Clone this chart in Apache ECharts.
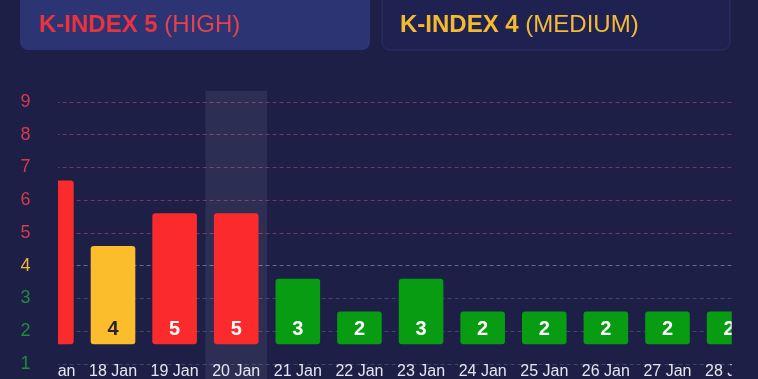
<!DOCTYPE html>
<html><head><meta charset="utf-8">
<script src="https://cdn.jsdelivr.net/npm/echarts@6/dist/echarts.min.js"></script>
<style>html,body{margin:0;padding:0;background:#1d1f47;overflow:hidden;width:758px;height:379px}#c{width:770px;height:400px}</style>
</head><body><div id="c"></div>
<script>
const categories = ['17 Jan','18 Jan','19 Jan','20 Jan','21 Jan','22 Jan','23 Jan','24 Jan','25 Jan','26 Jan','27 Jan','28 Jan'];
const kIndex = [6, 4, 5, 5, 3, 2, 3, 2, 2, 2, 2, 2];
const yTickLabels = [1, 2, 3, 4, 5, 6, 7, 8, 9];
const highlightedDay = '20 Jan';
const cards = [
  {level: 5, word: 'HIGH'},
  {level: 4, word: 'MEDIUM'}
];

const BG = '#1d1f47';
const FONT = "'Liberation Sans', Arial, sans-serif";
const RED = '#fb2b2d', YEL = '#fbbd2b', GRN = '#079c12';
const barFloor = 1.6;   // bars rise from this level
const barLift = 0.6;    // bar top sits this far above the reading
function levelColor(v){ return v >= 5 ? RED : (v === 4 ? YEL : GRN); }
function labelColor(v){ return v >= 5 ? '#d9394f' : (v === 4 ? '#f2b33a' : '#1f8c3c'); }
function textColor(v){ return v >= 5 ? '#e9333f' : '#f4b92f'; }

const chart = echarts.init(document.getElementById('c'));

const splitColors = [];
for (let v = 0; v <= 10; v++) {
  splitColors.push(v === 0 || v === 10 ? 'rgba(0,0,0,0)' :
    v >= 5 ? 'rgba(200,70,120,0.55)' : v === 4 ? 'rgba(200,200,210,0.45)' : 'rgba(150,155,195,0.3)');
}

const option = {
  backgroundColor: BG,
  animation: false,
  grid: {left: 20.6, right: 10.1, top: 69, bottom: 3.3},
  xAxis: {
    type: 'category', data: categories, boundaryGap: true,
    splitLine: {show: false}, axisLine: {show: false}, axisTick: {show: false},
    axisLabel: {interval: 0, inside: true, margin: 17, color: '#e4e6f0', fontSize: 16, fontFamily: FONT}
  },
  yAxis: [
    {
      type: 'value', min: 0, max: 10, interval: 1,
      axisLine: {show: false}, axisTick: {show: false}, axisLabel: {show: false},
      splitLine: {show: true, lineStyle: {type: [4, 3], width: 1, color: splitColors}}
    },
    {
      type: 'value', min: 0, max: 10, interval: 1, z: 10, position: 'left',
      axisLine: {show: false}, axisTick: {show: false}, splitLine: {show: false},
      axisLabel: {
        inside: true, margin: 5, align: 'center', fontSize: 18, fontFamily: FONT,
        formatter: v => yTickLabels.includes(Number(v)) ? String(v) : '',
        color: v => labelColor(Number(v))
      }
    }
  ],
  series: [
    {
      type: 'bar', stack: 'k', barWidth: 44.6,
      itemStyle: {color: 'rgba(0,0,0,0)'},
      data: kIndex.map(() => barFloor),
      markArea: {
        silent: true,
        itemStyle: {color: 'rgba(255,255,255,0.07)'},
        data: [[{xAxis: highlightedDay, yAxis: 9.34}, {xAxis: highlightedDay, yAxis: 0}]]
      }
    },
    {
      type: 'bar', stack: 'k', barWidth: 44.6,
      data: kIndex.map(v => ({
        value: v + barLift - barFloor,
        itemStyle: {color: levelColor(v), borderRadius: 3},
        label: {color: v === 4 ? '#2a2430' : '#ffffff'}
      })),
      label: {
        show: true, position: 'insideBottom', distance: 5,
        formatter: p => String(kIndex[p.dataIndex]),
        fontSize: 20, fontWeight: 'bold', fontFamily: FONT
      }
    }
  ],
  graphic: [
    {type: 'rect', z: 5, silent: true, shape: {x: 0, y: 56, width: 58, height: 350}, style: {fill: BG}},
    {type: 'rect', z: 5, silent: true, shape: {x: 731.7, y: 56, width: 50, height: 350}, style: {fill: BG}},
    {type: 'rect', z: 20, shape: {x: 20, y: -12, width: 350, height: 62, r: 8}, style: {fill: '#2c3473'}},
    {type: 'rect', z: 20, shape: {x: 382, y: -12, width: 348, height: 62, r: 8}, style: {fill: '#1f2250', stroke: '#2e3263', lineWidth: 1}},
    {type: 'text', z: 21, x: 39, y: 25, style: {
      text: '{b|K-INDEX ' + cards[0].level + '}{r| (' + cards[0].word + ')}',
      verticalAlign: 'middle',
      rich: {
        b: {fontSize: 24, fontWeight: 'bold', fontFamily: FONT, fill: textColor(cards[0].level)},
        r: {fontSize: 24, fontFamily: FONT, fill: '#e5424f'}
      }
    }},
    {type: 'text', z: 21, x: 400, y: 25, style: {
      text: '{b|K-INDEX ' + cards[1].level + '}{r| (' + cards[1].word + ')}',
      verticalAlign: 'middle',
      rich: {
        b: {fontSize: 24, fontWeight: 'bold', fontFamily: FONT, fill: textColor(cards[1].level)},
        r: {fontSize: 24, fontFamily: FONT, fill: '#f3bb3a'}
      }
    }}
  ]
};
chart.setOption(option);
</script>
</body></html>
